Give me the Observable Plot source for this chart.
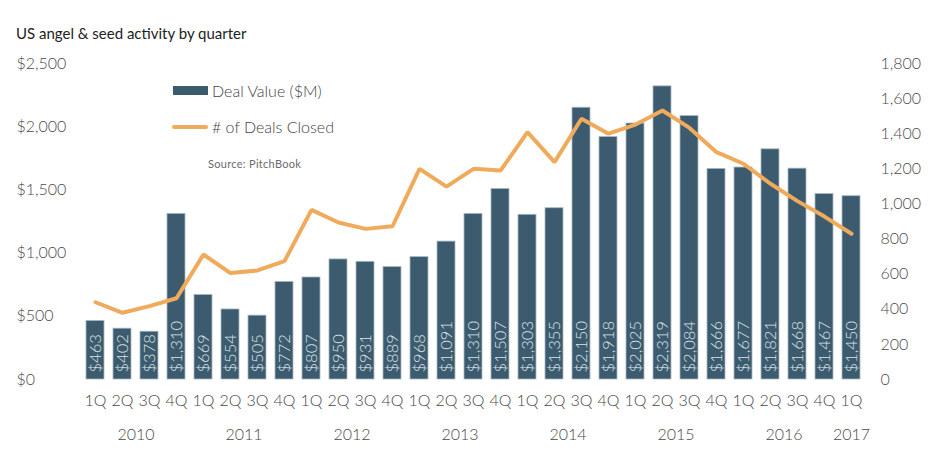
<!DOCTYPE html>
<html><head><meta charset="utf-8">
<script src="https://cdn.jsdelivr.net/npm/d3@7"></script>
<script src="https://cdn.jsdelivr.net/npm/@observablehq/plot@0.6"></script>
<style>
body{margin:0;background:#fff;font-family:Lato,"Noto Sans",sans-serif;}
#wrap{position:relative;width:949px;height:457px;overflow:hidden;background:#fff}
#title{height:48px;box-sizing:border-box;padding:24px 0 0 16px;font-size:15px;line-height:18px;color:#222;font-weight:400;}
.lg{position:absolute;font-size:16px;font-weight:300;color:#444;line-height:20px;white-space:nowrap}
.sw{position:absolute}
#src{position:absolute;left:208px;top:157px;font-size:11px;color:#6a6a6a;letter-spacing:0.3px;line-height:14px;font-weight:400}
</style></head>
<body>
<div id="wrap">
  <div id="title">US angel &amp; seed activity by quarter</div>
  <div id="chart"></div>
  <div class="sw" style="left:173px;top:86px;width:35px;height:9px;background:#3d5b6e"></div>
  <div class="lg" style="left:212px;top:81px">Deal Value ($M)</div>
  <div class="sw" style="left:172px;top:125px;width:36px;height:4px;background:#efab5b;border-radius:2px"></div>
  <div class="lg" style="left:212px;top:117px"># of Deals Closed</div>
  <div id="src">Source: PitchBook</div>
</div>
<script>
const years = [2010,2010,2010,2010,2011,2011,2011,2011,2012,2012,2012,2012,2013,2013,2013,2013,2014,2014,2014,2014,2015,2015,2015,2015,2016,2016,2016,2016,2017];
const quarters = ["1Q","2Q","3Q","4Q","1Q","2Q","3Q","4Q","1Q","2Q","3Q","4Q","1Q","2Q","3Q","4Q","1Q","2Q","3Q","4Q","1Q","2Q","3Q","4Q","1Q","2Q","3Q","4Q","1Q"];
const dealValue = [463,402,378,1310,669,554,505,772,807,950,931,889,968,1091,1310,1507,1303,1355,2150,1918,2025,2319,2084,1666,1677,1821,1668,1467,1450];
const dealCount = [440,380,418,463,712,606,621,674,966,894,858,873,1200,1099,1200,1190,1409,1238,1485,1400,1452,1532,1433,1295,1229,1115,1016,928,830];
const valueTicks = [0,500,1000,1500,2000,2500];
const countTicks = [0,200,400,600,800,1000,1200,1400,1600,1800];
const yearLabels = ["2010","2011","2012","2013","2014","2015","2016"];
const lastYearLabel = "2017";

const VMAX = 2500, CMAX = 1800;
const keys = years.map((y,i)=>y+"-"+quarters[i]);
const rows = keys.map((k,i)=>({key:k, value:dealValue[i], deals:dealCount[i]}));
const plotW = 949 - 81 - 84;
const step = plotW / keys.length;

const chart = Plot.plot({
  width: 949, height: 409,
  marginTop: 15, marginBottom: 78, marginLeft: 81, marginRight: 84,
  style: {fontFamily: "Lato, 'Noto Sans', sans-serif", fontSize: "16px", fontWeight: 300, color: "#4a4a4a", background: "#fff"},
  x: {type: "band", domain: keys, paddingInner: 0.35, paddingOuter: 0.175, align: 0.5, axis: null},
  y: {domain: [0, VMAX], axis: null},
  marks: [
    Plot.barY(rows, {x: "key", y: "value", fill: "#3d5b6e", stroke: "#a7b6c0", strokeWidth: 0.8}),
    Plot.text(rows, {x: "key", y: () => 0, text: d => "$" + d3.format(",")(d.value), rotate: -90, textAnchor: "start", dy: -7, fill: "#dce3e8", fontSize: 16.5, fontWeight: 300}),
    Plot.line(rows, {x: "key", y: d => d.deals * VMAX / CMAX, stroke: "#efab5b", strokeWidth: 4, strokeLinejoin: "miter"}),
    Plot.axisY({anchor: "left", ticks: valueTicks, tickFormat: d3.format("$,"), tickSize: 0, tickPadding: 65, textAnchor: "start", label: null}),
    Plot.axisY({anchor: "right", ticks: countTicks.map(c => c * VMAX / CMAX), tickFormat: v => d3.format(",")(Math.round(v * CMAX / VMAX)), tickSize: 0, tickPadding: 15, textAnchor: "start", label: null}),
    Plot.axisX({ticks: keys, tickFormat: k => k.slice(5), tickSize: 0, tickPadding: 15, label: null}),
    Plot.axisX({ticks: yearLabels.map(y => y + "-2Q"), tickFormat: k => k.slice(0,4), tickSize: 0, tickPadding: 49, dx: step / 2, label: null}),
    Plot.axisX({ticks: [lastYearLabel + "-1Q"], tickFormat: k => k.slice(0,4), tickSize: 0, tickPadding: 49, label: null})
  ]
});
document.getElementById("chart").appendChild(chart);
</script>
</body></html>
